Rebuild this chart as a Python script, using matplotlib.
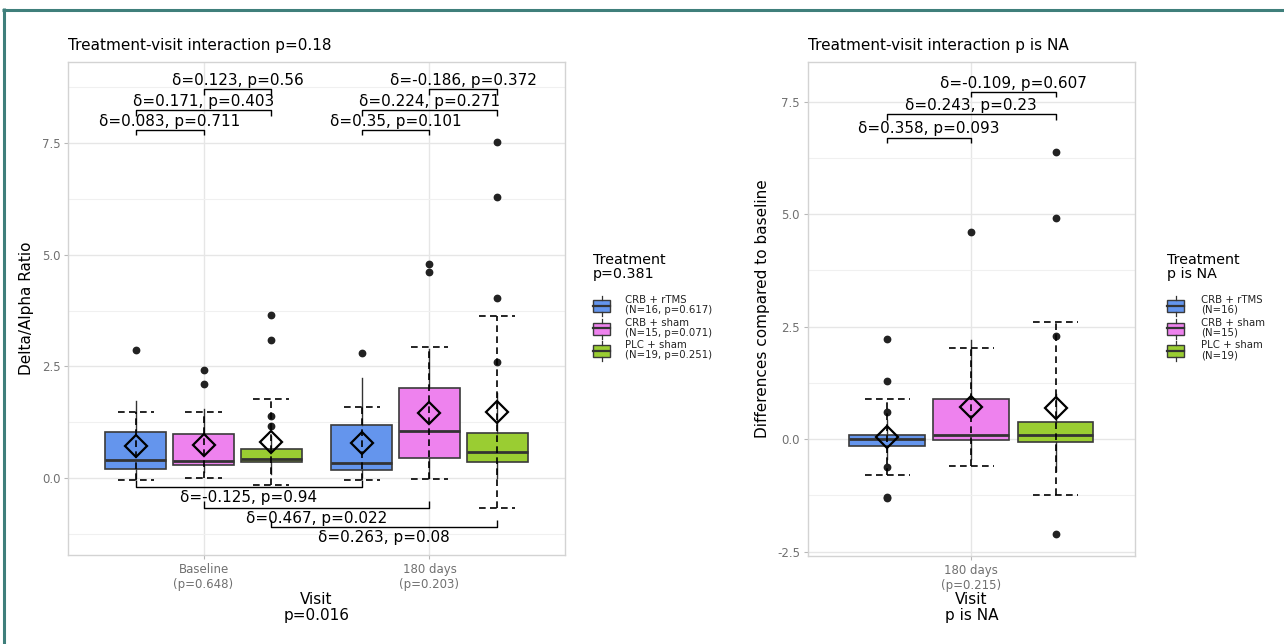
import matplotlib
matplotlib.use('Agg')
import matplotlib.pyplot as plt
from matplotlib.lines import Line2D
from matplotlib.patches import Rectangle
from matplotlib.ticker import MultipleLocator, FixedLocator

plt.rcParams['font.family'] = ['DejaVu Sans']

# ---------------- data ----------------
treatments = ['CRB + rTMS', 'CRB + sham', 'PLC + sham']
colors = ['#6495ED', '#EE82EE', '#9ACD32']

# Left panel: Delta/Alpha ratio by visit
visits_left = ['Baseline\n(p=0.648)', '180 days\n(p=0.203)']
left_q1 = [[0.20, 0.29, 0.35], [0.18, 0.44, 0.35]]
left_med = [[0.40, 0.38, 0.43], [0.33, 1.06, 0.59]]
left_q3 = [[1.04, 0.98, 0.65], [1.19, 2.02, 1.01]]
left_wlo = [[0.00, 0.14, 0.10], [0.02, 0.00, 0.00]]
left_whi = [[1.72, 1.55, 0.95], [2.25, 2.90, 1.90]]
left_mean = [[0.72, 0.74, 0.81], [0.78, 1.46, 1.48]]
left_sd = [[0.77, 0.74, 0.97], [0.82, 1.48, 2.15]]
left_out = [[[2.86], [2.42, 2.10], [3.66, 3.09, 1.39, 1.16]],
            [[2.80], [4.79, 4.62], [7.51, 6.29, 4.04, 2.59]]]
left_within_labels = [['δ=0.083, p=0.711', 'δ=0.171, p=0.403', 'δ=0.123, p=0.56'],
                      ['δ=0.35, p=0.101', 'δ=0.224, p=0.271', 'δ=-0.186, p=0.372']]
left_within_levels = [7.79, 8.23, 8.70]
left_between_labels = ['δ=-0.125, p=0.94', 'δ=0.467, p=0.022', 'δ=0.263, p=0.08']
left_between_levels = [-0.19, -0.66, -1.09]
left_legend_labels = ['CRB + rTMS\n(N=16, p=0.617)', 'CRB + sham\n(N=15, p=0.071)',
                      'PLC + sham\n(N=19, p=0.251)']

# Right panel: differences compared to baseline
visits_right = ['180 days\n(p=0.215)']
right_q1 = [[-0.15, -0.02, -0.06]]
right_med = [[-0.01, 0.09, 0.10]]
right_q3 = [[0.08, 0.90, 0.38]]
right_wlo = [[-0.45, -0.45, -0.70]]
right_whi = [[0.42, 2.19, 1.00]]
right_mean = [[0.04, 0.72, 0.68]]
right_sd = [[0.85, 1.31, 1.93]]
right_out = [[[2.22, 1.29, 0.61, -0.63, -1.28, -1.31], [4.61], [6.38, 4.92, 2.30, -2.10]]]
right_within_labels = [['δ=0.358, p=0.093', 'δ=0.243, p=0.23', 'δ=-0.109, p=0.607']]
right_within_levels = [6.70, 7.22, 7.72]
right_legend_labels = ['CRB + rTMS\n(N=16)', 'CRB + sham\n(N=15)', 'PLC + sham\n(N=19)']

pairs = [(0, 1), (0, 2), (1, 2)]

# ---------------- layout ----------------
W, H = 1284, 644
fig = plt.figure(figsize=(W / 100, H / 100), dpi=100)
fig.patch.set_facecolor('white')

DODGE = 0.3
BOXW = 0.27
CAPW = 0.08
ANN_FS = 11
TICK_FS = 8.5
LAB_FS = 11
DASH = (0, (4, 2.6))


def style_axes(ax, ylim, xlim, xticklabels, major, minor):
    ax.set_xlim(*xlim)
    ax.set_ylim(*ylim)
    ax.set_axisbelow(True)
    ax.yaxis.set_major_locator(MultipleLocator(major))
    ax.yaxis.set_minor_locator(MultipleLocator(minor))
    ax.yaxis.set_major_formatter(matplotlib.ticker.FormatStrFormatter('%.1f'))
    pos = list(range(1, len(xticklabels) + 1))
    ax.xaxis.set_major_locator(FixedLocator(pos))
    ax.set_xticklabels(xticklabels)
    ax.grid(which='major', color='#e6e6e6', lw=1.0)
    ax.grid(which='minor', axis='y', color='#f0f0f0', lw=0.8)
    for s in ax.spines.values():
        s.set_color('#d3d3d3')
        s.set_linewidth(1.0)
    ax.tick_params(which='major', length=3, width=0.8, color='#b8b8b8',
                   labelcolor='#707070', labelsize=TICK_FS, pad=2.5)
    ax.tick_params(which='minor', length=0)


def draw_boxes(ax, q1, med, q3, wlo, whi, mean, sd, out):
    for v in range(len(q1)):
        for t in range(3):
            x = v + 1 + (t - 1) * DODGE
            stats = [dict(med=med[v][t], q1=q1[v][t], q3=q3[v][t],
                          whislo=wlo[v][t], whishi=whi[v][t], fliers=out[v][t])]
            ax.bxp(stats, positions=[x], widths=BOXW, patch_artist=True,
                   showcaps=False, manage_ticks=False,
                   boxprops=dict(facecolor=colors[t], edgecolor='#3a3a3a', lw=1.2),
                   medianprops=dict(color='#333333', lw=2.0),
                   whiskerprops=dict(color='#333333', lw=1.0),
                   flierprops=dict(marker='o', markerfacecolor='#222222',
                                   markeredgecolor='#222222', markersize=4.6),
                   zorder=2)
            m, s = mean[v][t], sd[v][t]
            ax.vlines(x, m - s, m + s, colors='black', linestyles=DASH, lw=1.2, zorder=4)
            ax.hlines([m - s, m + s], x - CAPW, x + CAPW, colors='black',
                      linestyles=DASH, lw=1.2, zorder=4)
            ax.plot([x], [m], marker='D', ms=11.5, mfc='none', mec='black', mew=1.6,
                    zorder=5, ls='none')


def bracket(ax, x1, x2, level, label, up, tip):
    if up:
        ys = [level - tip, level, level, level - tip]
        off, va = 3.0, 'baseline'
    else:
        ys = [level + tip, level, level, level + tip]
        off, va = -10.8, 'baseline'
    ax.plot([x1, x1, x2, x2], ys, color='black', lw=1.0, zorder=6, solid_capstyle='butt')
    ax.annotate(label, xy=((x1 + x2) / 2, level), xytext=(0, off),
                textcoords='offset points', ha='center', va=va,
                fontsize=ANN_FS, color='black', zorder=7)


# ---------------- left panel ----------------
axL = fig.add_axes([68 / W, 1 - 555 / H, (565 - 68) / W, (555 - 62) / H])
style_axes(axL, (-1.72, 9.31), (0.4, 2.6), visits_left, 2.5, 1.25)
draw_boxes(axL, left_q1, left_med, left_q3, left_wlo, left_whi, left_mean, left_sd, left_out)
tipL = 0.011 * (9.31 + 1.72)
for v in range(2):
    for k, (a, b) in enumerate(pairs):
        bracket(axL, v + 1 + (a - 1) * DODGE, v + 1 + (b - 1) * DODGE,
                left_within_levels[k], left_within_labels[v][k], True, tipL)
for t in range(3):
    bracket(axL, 1 + (t - 1) * DODGE, 2 + (t - 1) * DODGE,
            left_between_levels[t], left_between_labels[t], False, tipL * 1.2)
axL.set_title('Treatment-visit interaction p=0.18', loc='left', fontsize=LAB_FS, pad=8.5)
axL.set_ylabel('Delta/Alpha Ratio', fontsize=LAB_FS)
axL.yaxis.label.set_va('center')
axL.yaxis.set_label_coords((27 - 68) / 497, 0.5)
axL.set_xlabel('Visit\np=0.016', fontsize=LAB_FS, linespacing=1.1)
axL.xaxis.label.set_va('top')
axL.xaxis.set_label_coords(0.5, -(592 - 555) / 493)

# ---------------- right panel ----------------
axR = fig.add_axes([807.7 / W, 1 - 556 / H, (1135 - 807.7) / W, (556 - 62) / H])
style_axes(axR, (-2.6, 8.38), (0.417, 1.583), visits_right, 2.5, 1.25)
draw_boxes(axR, right_q1, right_med, right_q3, right_wlo, right_whi, right_mean, right_sd, right_out)
tipR = 0.011 * (8.38 + 2.6)
for k, (a, b) in enumerate(pairs):
    bracket(axR, 1 + (a - 1) * DODGE, 1 + (b - 1) * DODGE,
            right_within_levels[k], right_within_labels[0][k], True, tipR)
axR.set_title('Treatment-visit interaction p is NA', loc='left', fontsize=LAB_FS, pad=8.5)
axR.set_ylabel('Differences compared to baseline', fontsize=LAB_FS)
axR.yaxis.label.set_va('center')
axR.yaxis.set_label_coords((762 - 807.7) / 327.3, 0.5)
axR.set_xlabel('Visit\np is NA', fontsize=LAB_FS, linespacing=1.1)
axR.xaxis.label.set_va('top')
axR.xaxis.set_label_coords(0.5, -(592 - 556) / 494)


# ---------------- legends ----------------
def fx(x):
    return x / W


def fy(y):
    return 1 - y / H


def draw_legend(x_key, x_text, title, labels, title_y=261, key_y0=306, pitch=22.5):
    fig.text(fx(x_key), fy(title_y), title, fontsize=10.3, ha='left', va='center',
             linespacing=1.05)
    kw, kh = 17, 12
    for i, lab in enumerate(labels):
        cy = key_y0 + i * pitch
        fig.add_artist(Rectangle((fx(x_key), fy(cy + kh / 2)), kw / W, kh / H,
                                 transform=fig.transFigure, facecolor=colors[i],
                                 edgecolor='#3a3a3a', lw=1.0))
        fig.add_artist(Line2D([fx(x_key), fx(x_key + kw)], [fy(cy), fy(cy)],
                              transform=fig.transFigure, color='#333333', lw=1.6))
        xc = fx(x_key + kw / 2)
        fig.add_artist(Line2D([xc, xc], [fy(cy - kh / 2), fy(cy - kh / 2 - 4)],
                              transform=fig.transFigure, color='#333333', lw=0.9))
        fig.add_artist(Line2D([xc, xc], [fy(cy + kh / 2), fy(cy + kh / 2 + 4)],
                              transform=fig.transFigure, color='#333333', lw=0.9))
        fig.text(fx(x_text), fy(cy - 1), lab, fontsize=7.3, ha='left', va='center',
                 linespacing=1.0, color='#222222')


draw_legend(593, 625, 'Treatment\np=0.381', left_legend_labels, title_y=267)
draw_legend(1167, 1201, 'Treatment\np is NA', right_legend_labels, title_y=267)

# ---------------- frame lines ----------------
frame_col = '#3f7f7b'
fig.add_artist(Line2D([fx(2), 1.0], [fy(9.5), fy(9.5)], transform=fig.transFigure,
                      color=frame_col, lw=2.2, solid_capstyle='butt'))
fig.add_artist(Line2D([fx(4.2), fx(4.2)], [fy(8), 0.0], transform=fig.transFigure,
                      color=frame_col, lw=2.2, solid_capstyle='butt'))

fig.savefig('out.png', dpi=100, facecolor='white')
